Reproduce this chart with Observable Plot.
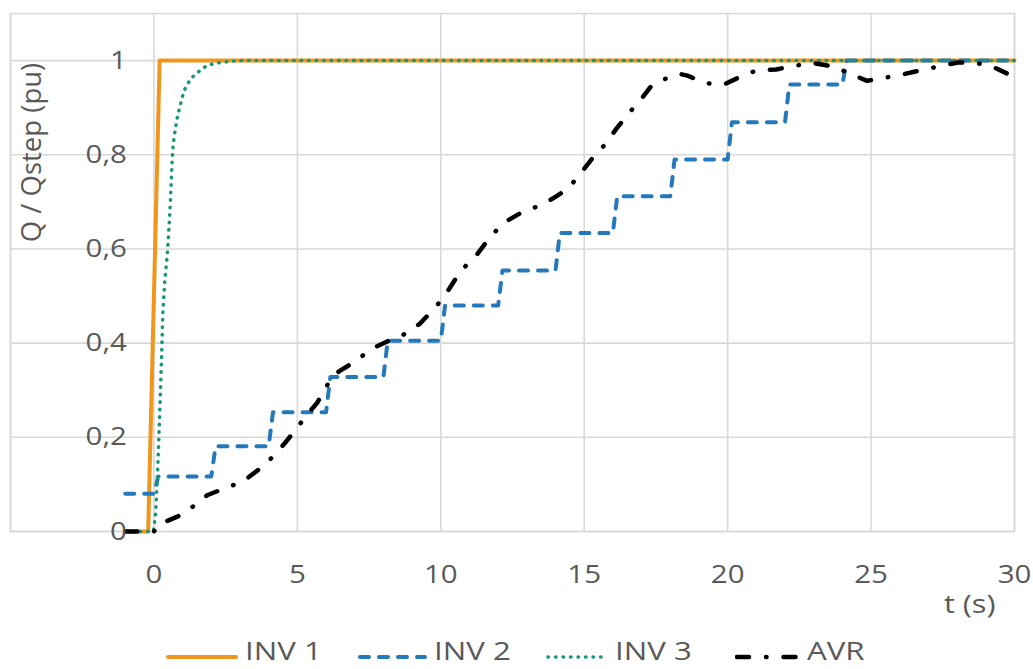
<!DOCTYPE html>
<html><head><meta charset="utf-8">
<script src="https://cdn.jsdelivr.net/npm/d3@7"></script>
<script src="https://cdn.jsdelivr.net/npm/@observablehq/plot@0.6"></script>
<style>
body{margin:0;background:#fff;font-family:"Open Sans",sans-serif;}
#wrap{position:relative;width:1033px;height:669px;}
#legend{position:absolute;left:0;top:633px;width:1033px;height:35px;color:#595959;font-size:26px;line-height:35px;}
.sw{position:absolute;top:18px;}
.lab{position:absolute;top:0;white-space:nowrap;display:inline-block;transform:scaleX(1.2);transform-origin:0 50%;}
</style></head><body><div id="wrap"><div id="chart"></div><div id="legend"></div></div>
<script>
const seriesNames = ["INV 1", "INV 2", "INV 3", "AVR"];
const seriesColors = ["#f0961c", "#2479bd", "#16967a", "#000000"];
const seriesWidths = [4, 4, 3.5, 4.5];
const seriesDash = ["none", "9,10", "0.5,7", "12,17,0.5,17"];

const inv1T = [-1, -0.2, 0.2, 30];
const inv1V = [0, 0, 1, 1];

const inv2T = [-1, 0, 0.15, 2, 2.15, 4, 4.15, 6, 6.15, 8, 8.15, 10, 10.15, 12, 12.15, 14, 14.15, 16, 16.15, 18, 18.15, 20, 20.15, 22, 22.15, 24, 24.15, 30];
const inv2V = [0.08, 0.08, 0.117, 0.117, 0.181, 0.181, 0.253, 0.253, 0.328, 0.328, 0.405, 0.405, 0.48, 0.48, 0.554, 0.554, 0.634, 0.634, 0.712, 0.712, 0.79, 0.79, 0.869, 0.869, 0.949, 0.949, 1.0, 1.0];

const inv3T = [-1, -0.02, 0.06, 0.14, 0.2, 0.26, 0.31, 0.38, 0.45, 0.5, 0.54, 0.58, 0.61, 0.64, 0.66, 0.7, 0.76, 0.82, 0.91, 0.99, 1.1, 1.3, 1.57, 1.86, 2.2, 2.9, 30];
const inv3V = [0, 0, 0.038, 0.144, 0.25, 0.357, 0.463, 0.534, 0.577, 0.619, 0.662, 0.708, 0.753, 0.793, 0.814, 0.836, 0.859, 0.881, 0.903, 0.923, 0.943, 0.963, 0.977, 0.99, 0.995, 1.0, 1.0];

const avrT = [-1, -0.3, 0, 0.17, 0.84, 1.36, 1.85, 2.44, 3.1, 3.62, 4.08, 4.53, 4.95, 5.35, 5.7, 6.1, 6.45, 7.04, 7.56, 8.15, 8.6, 9.27, 9.79, 10.1, 10.49, 10.87, 11.27, 11.72, 12.18, 12.75, 13.35, 13.9, 14.44, 14.89, 15.28, 15.7, 16.13, 16.55, 17.01, 17.35, 17.96, 18.3, 18.6, 19.22, 19.86, 20.42, 21.0, 21.69, 22.32, 22.96, 23.66, 24.2, 24.86, 25.42, 26.06, 26.7, 27.39, 28.03, 28.66, 29.2, 30];
const avrV = [0, 0, 0, 0.015, 0.032, 0.053, 0.077, 0.091, 0.106, 0.13, 0.155, 0.185, 0.217, 0.249, 0.274, 0.317, 0.34, 0.362, 0.387, 0.404, 0.414, 0.441, 0.475, 0.497, 0.534, 0.564, 0.589, 0.625, 0.655, 0.675, 0.69, 0.707, 0.728, 0.762, 0.792, 0.82, 0.856, 0.888, 0.92, 0.947, 0.965, 0.972, 0.968, 0.952, 0.949, 0.965, 0.979, 0.981, 0.989, 0.995, 0.988, 0.974, 0.957, 0.963, 0.97, 0.979, 0.988, 0.996, 0.995, 0.988, 0.965];

const xGridTicks = [-5, 0, 5, 10, 15, 20, 25, 30];
const xLabelTicks = [0, 5, 10, 15, 20, 25, 30];
const yTicks = [0, 0.2, 0.4, 0.6, 0.8, 1];
const yTickLabels = ["0", "0,2", "0,4", "0,6", "0,8", "1"];
const xTitle = "t (s)";
const yTitle = "Q / Qstep (pu)";

const seriesT = [inv1T, inv2T, inv3T, avrT];
const seriesV = [inv1V, inv2V, inv3V, avrV];
const rows = seriesT.map((ts, i) => ts.map((t, j) => ({series: seriesNames[i], t, v: seriesV[i][j]})));
const yLab = yTicks.map((v, i) => ({v, label: yTickLabels[i]}));
const grid = "#d9d9d9";
const textColor = "#595959";

const chart = Plot.plot({
  width: 1033, height: 620,
  marginLeft: 10, marginRight: 19, marginTop: 13, marginBottom: 89,
  style: {fontFamily: "'Open Sans', sans-serif", fontSize: "25px", background: "white", color: textColor},
  x: {domain: [-5, 30], axis: null},
  y: {domain: [0, 1.1], axis: null},
  marks: [
    Plot.gridX(xGridTicks, {stroke: grid, strokeOpacity: 1, strokeWidth: 1.6}),
    Plot.gridY(yTicks, {stroke: grid, strokeOpacity: 1, strokeWidth: 1.6}),
    Plot.frame({stroke: grid, strokeWidth: 1.6}),
    ...rows.map((r, i) => Plot.line(r, {
      x: "t", y: "v", stroke: seriesColors[i], strokeWidth: seriesWidths[i],
      strokeDasharray: seriesDash[i] === "none" ? undefined : seriesDash[i],
      strokeLinecap: "round", strokeLinejoin: "round"
    })),
    Plot.axisX(xLabelTicks, {tickSize: 0, tickPadding: 34, color: textColor, fontSize: 25, label: null}),
    Plot.text(yLab, {x: () => 0, y: "v", text: "label", dx: -27, textAnchor: "end", lineAnchor: "middle", fill: textColor, fontSize: 25}),
    Plot.text([xTitle], {frameAnchor: "bottom-right", text: d => d, dx: -19, dy: 73, textAnchor: "end", lineAnchor: "middle", fill: textColor, fontSize: 26}),
    Plot.text([yTitle], {frameAnchor: "top-left", text: d => d, dx: 22, dy: 139, rotate: -90, textAnchor: "middle", lineAnchor: "middle", fill: textColor, fontSize: 27.5})
  ]
});
// the reference's lettering is slightly wider than the font: stretch horizontal texts
d3.select(chart).selectAll("text").each(function() {
  const tr = this.getAttribute("transform");
  if (tr && !tr.includes("rotate")) this.setAttribute("transform", tr + " scale(1.18,1)");
});
document.getElementById("chart").appendChild(chart);

const legend = document.getElementById("legend");
const swX = [166, 358, 546, 735];
const swW = [72, 69, 59, 69];
const labX = [245, 434, 615, 807];
seriesNames.forEach((name, i) => {
  const dash = seriesDash[i] === "none" ? "" : `stroke-dasharray="${seriesDash[i]}"`;
  const sw = document.createElement("div");
  sw.className = "sw";
  sw.style.left = swX[i] + "px";
  sw.innerHTML = `<svg width="${swW[i]}" height="12" style="display:block"><line x1="2" y1="6" x2="${swW[i]-2}" y2="6" stroke="${seriesColors[i]}" stroke-width="${seriesWidths[i]}" stroke-linecap="round" ${dash}/></svg>`;
  legend.appendChild(sw);
  const lab = document.createElement("span");
  lab.className = "lab";
  lab.style.left = labX[i] + "px";
  lab.textContent = name;
  legend.appendChild(lab);
});
</script></body></html>
